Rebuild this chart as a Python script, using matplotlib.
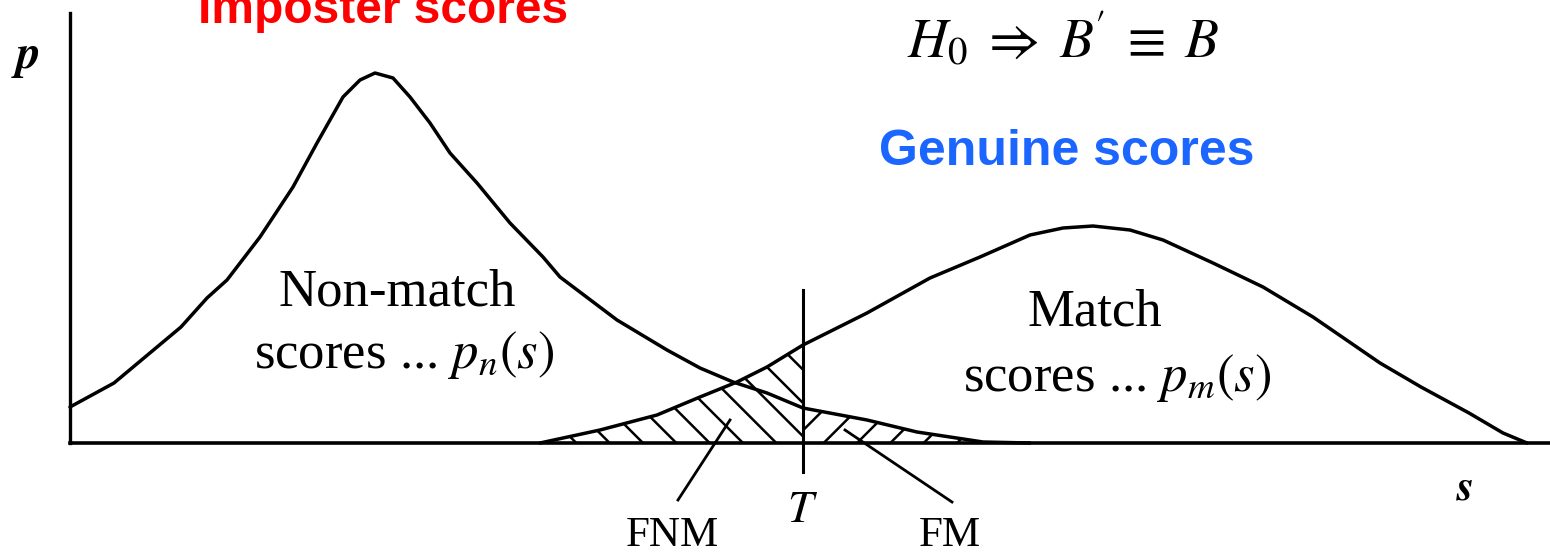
import matplotlib
matplotlib.use("Agg")
import matplotlib.pyplot as plt
import numpy as np

# Non-match (imposter) score density (s, p in arbitrary units)
s_nonmatch = [0, 44, 111, 137, 157, 190, 223, 247, 273, 290, 305, 323, 340, 360,
              380, 407, 440, 473, 490, 547, 597, 630, 663, 697, 733, 797, 847, 913, 960]
p_nonmatch = [36, 60, 116, 145, 163, 206, 256, 300, 346, 363, 370, 365, 346, 320,
              290, 260, 220, 186, 166, 123, 93, 75, 61, 50, 35, 23, 11, 1, 0]

# Match (genuine) score density
s_match = [470, 530, 587, 630, 667, 697, 733, 797, 860, 910, 960, 993, 1023, 1060,
           1093, 1143, 1193, 1243, 1310, 1351, 1399, 1433, 1457]
p_match = [0, 13, 28, 46, 61, 76, 98, 130, 165, 186, 208, 215, 217, 213,
           203, 180, 156, 126, 80, 56, 30, 10, 0]

threshold = 733

plt.rcParams['mathtext.fontset'] = 'stix'
plt.rcParams['hatch.linewidth'] = 1.8

fig = plt.figure(figsize=(15.5, 5.57), dpi=100)
ax = fig.add_axes([0, 0, 1, 1])
ax.set_xlim(-70, 1480)
ax.set_ylim(-114, 443)

sn = np.array(s_nonmatch); pn = np.array(p_nonmatch)
sm = np.array(s_match); pm = np.array(p_match)

lw = 2.5
ax.plot(sn, pn, color='black', lw=lw, solid_joinstyle='round', solid_capstyle='round')
ax.plot(sm, pm, color='black', lw=lw, solid_joinstyle='round', solid_capstyle='round')

# FNM: match scores below threshold
ax.fill_between(sm, 0, pm, where=sm <= threshold, facecolor='none',
                edgecolor='black', linewidth=0, hatch='\\')
# FM: non-match scores above threshold
ax.fill_between(sn, 0, pn, where=sn >= threshold, facecolor='none',
                edgecolor='black', linewidth=0, hatch='/')

# threshold line
ax.plot([threshold, threshold], [-29, 153], color='black', lw=2.2)

# leader lines
ax.plot([608, 660], [-57, 23], color='black', lw=2.0)
ax.plot([882, 775], [-59, 13], color='black', lw=2.0)

# axes
for side in ['top', 'right']:
    ax.spines[side].set_visible(False)
ax.spines['left'].set_position(('data', 0))
ax.spines['bottom'].set_position(('data', 0))
ax.spines['left'].set_bounds(0, 430)
ax.spines['bottom'].set_bounds(0, 1480)
ax.spines['left'].set_linewidth(2.4)
ax.spines['bottom'].set_linewidth(2.6)
ax.set_xticks([]); ax.set_yticks([])
ax.patch.set_alpha(0)

serif = 'Liberation Serif'
ax.text(-45, 375, r'$\boldsymbol{p}$', fontsize=34, ha='center', va='baseline')
ax.text(1395, -57, r'$\boldsymbol{s}$', fontsize=32, ha='center', va='baseline')
ax.text(threshold, -79, r'$T$', fontsize=33, ha='center', va='baseline')
ax.text(602, -103, 'FNM', fontsize=31, family=serif, ha='center', va='baseline')
ax.text(880, -103, 'FM', fontsize=31, family=serif, ha='center', va='baseline')

ax.text(327, 138, 'Non-match', fontsize=38, family=serif, ha='center', va='baseline')
ax.text(334, 75, r'scores ... $p_n(s)$', fontsize=38, family=serif, ha='center', va='baseline')
ax.text(1025, 118, 'Match', fontsize=38, family=serif, ha='center', va='baseline')
ax.text(1047, 52, r'scores ... $p_m(s)$', fontsize=38, family=serif, ha='center', va='baseline')

ax.text(383 - 70, 420, 'Imposter scores', fontsize=34.5, family='Liberation Sans',
        fontweight='bold', color='#ff0000', ha='center', va='baseline')
ax.text(997, 278, 'Genuine scores', fontsize=36, family='Liberation Sans',
        fontweight='bold', color='#1a66ff', ha='center', va='baseline')
ax.text(837, 385, r"$H_{0}\;\Rightarrow\; B^{\!\prime}\;\equiv\; B$", fontsize=40,
        ha='left', va='baseline')

fig.savefig('out.png', dpi=100)
